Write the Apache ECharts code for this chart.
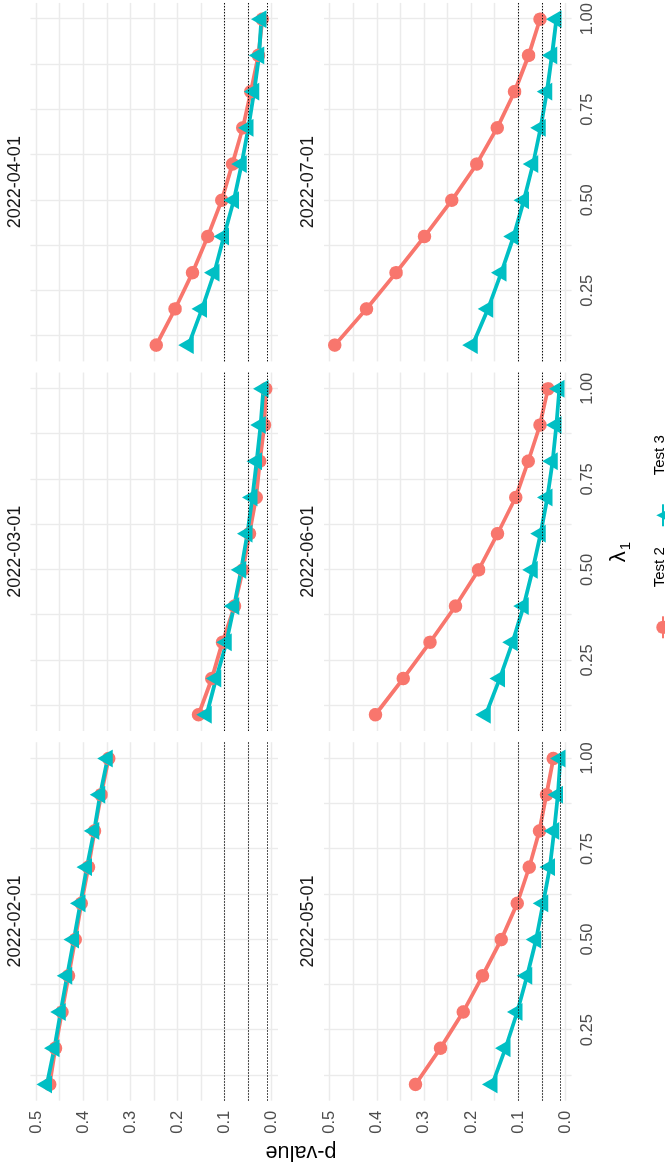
<!DOCTYPE html>
<html>
<head>
<meta charset="utf-8">
<script src="https://cdn.jsdelivr.net/npm/echarts@6/dist/echarts.min.js"></script>
<style>
html,body{margin:0;padding:0;background:#fff;overflow:hidden;width:665px;height:1168px;}
#chart{position:absolute;left:0;top:1168px;width:1168px;height:665px;transform-origin:0 0;transform:rotate(-90deg);background:#fff;}
</style>
</head>
<body>
<div id="chart"></div>
<script>
// ---------------- data ----------------
const lambda = [0.1, 0.2, 0.3, 0.4, 0.5, 0.6, 0.7, 0.8, 0.9, 1.0];
const panels = ['2022-02-01', '2022-03-01', '2022-04-01', '2022-05-01', '2022-06-01', '2022-07-01'];

const test2_0201 = [0.471, 0.459, 0.445, 0.431, 0.417, 0.404, 0.389, 0.376, 0.362, 0.346];
const test3_0201 = [0.477, 0.461, 0.448, 0.434, 0.420, 0.406, 0.392, 0.377, 0.364, 0.348];
const test2_0301 = [0.1555, 0.127, 0.1046, 0.079, 0.0614, 0.0474, 0.033, 0.0254, 0.0156, 0.0127];
const test3_0301 = [0.138, 0.118, 0.096, 0.080, 0.065, 0.0517, 0.041, 0.0318, 0.0234, 0.0177];
const test2_0401 = [0.245, 0.205, 0.168, 0.1356, 0.106, 0.0834, 0.0614, 0.0445, 0.0283, 0.0199];
const test3_0401 = [0.1766, 0.148, 0.122, 0.1017, 0.0805, 0.064, 0.0495, 0.0375, 0.027, 0.022];
const test2_0501 = [0.318, 0.265, 0.2167, 0.1756, 0.136, 0.102, 0.0765, 0.055, 0.040, 0.0255];
const test3_0501 = [0.155, 0.127, 0.102, 0.081, 0.062, 0.047, 0.033, 0.024, 0.016, 0.0106];
const test2_0601 = [0.403, 0.344, 0.287, 0.233, 0.184, 0.1437, 0.1054, 0.0786, 0.0538, 0.0368];
const test3_0601 = [0.169, 0.139, 0.112, 0.0884, 0.0693, 0.0523, 0.038, 0.0268, 0.019, 0.0127];
const test2_0701 = [0.489, 0.422, 0.359, 0.299, 0.2408, 0.188, 0.1445, 0.1076, 0.0779, 0.0538];
const test3_0701 = [0.197, 0.164, 0.136, 0.1096, 0.0878, 0.0686, 0.0523, 0.0389, 0.0283, 0.019];

const test2 = [test2_0201, test2_0301, test2_0401, test2_0501, test2_0601, test2_0701];
const test3 = [test3_0201, test3_0301, test3_0401, test3_0501, test3_0601, test3_0701];

const thresholds = [0.1, 0.05, 0.01];
const pTickLabels = [0, 0.1, 0.2, 0.3, 0.4, 0.5];
const pGridValues = [0, 0.05, 0.1, 0.15, 0.2, 0.25, 0.3, 0.35, 0.4, 0.45, 0.5];
const lambdaTickLabels = [0.25, 0.5, 0.75, 1.0];
const lambdaGridValues = [0.125, 0.25, 0.375, 0.5, 0.625, 0.75, 0.875, 1.0];

// ---------------- layout / style ----------------
const FONT = '"Liberation Sans", Arial, Helvetica, sans-serif';
const RED = '#F8766D', CYAN = '#00BFC4';
const colLeft = [67.3, 437, 806.6], colW = 358.5;
const rowTop = [30.4, 324], rowH = 247.6;
const P_MIN = -0.0133, P_MAX = 0.512, L_MIN = 0.055, L_MAX = 1.045;

const chart = echarts.init(document.getElementById('chart'), null, {width: 1168, height: 665});

const grids = [], xAxes = [], yAxes = [], graphics = [];
const hlineSeries = [], lineSeries = [], pointSeries = [];

panels.forEach((name, i) => {
  const r = Math.floor(i / 3), c = i % 3;
  grids.push({left: colLeft[c], top: rowTop[r], width: colW, height: rowH, containLabel: false});
  xAxes.push({
    type: 'value', gridIndex: i, min: L_MIN, max: L_MAX,
    axisLine: {show: false},
    axisTick: {show: false, customValues: lambdaGridValues},
    axisLabel: {show: r === 1, customValues: lambdaTickLabels, formatter: v => v.toFixed(2),
      margin: 7, color: '#4D4D4D', fontSize: 16.5, fontFamily: FONT},
    splitLine: {show: true, lineStyle: {color: '#EBEBEB', width: 1.4}}
  });
  yAxes.push({
    type: 'value', gridIndex: i, min: P_MIN, max: P_MAX,
    axisLine: {show: false},
    axisTick: {show: false, customValues: pGridValues},
    axisLabel: {show: c === 0, customValues: pTickLabels, formatter: v => v.toFixed(1),
      margin: 10, color: '#4D4D4D', fontSize: 16.5, fontFamily: FONT},
    splitLine: {show: true, lineStyle: {color: '#EBEBEB', width: 1.4}}
  });
  hlineSeries.push({
    type: 'line', xAxisIndex: i, yAxisIndex: i, data: [[L_MIN, P_MIN]], showSymbol: false,
    lineStyle: {opacity: 0}, z: 1, silent: true,
    markLine: {
      silent: true, symbol: ['none', 'none'], label: {show: false}, animation: false,
      lineStyle: {type: [1.4, 1.6], color: '#111', width: 1.1},
      data: thresholds.map(v => ({yAxis: v}))
    }
  });
  const d2 = lambda.map((l, k) => [l, test2[i][k]]);
  const d3 = lambda.map((l, k) => [l, test3[i][k]]);
  lineSeries.push({type: 'line', name: 'Test 2', xAxisIndex: i, yAxisIndex: i, data: d2,
    showSymbol: false, symbol: 'circle', lineStyle: {color: RED, width: 3.8}, itemStyle: {color: RED}, z: 2, silent: true});
  lineSeries.push({type: 'line', name: 'Test 3', xAxisIndex: i, yAxisIndex: i, data: d3,
    showSymbol: false, symbol: 'triangle', lineStyle: {color: CYAN, width: 3.8}, itemStyle: {color: CYAN}, z: 2, silent: true});
  pointSeries.push({type: 'scatter', name: 'Test 2', xAxisIndex: i, yAxisIndex: i, data: d2,
    symbol: 'circle', symbolSize: 13.5, itemStyle: {color: RED, opacity: 1}, z: 3, silent: true});
  pointSeries.push({type: 'scatter', name: 'Test 3', xAxisIndex: i, yAxisIndex: i, data: d3,
    symbol: 'triangle', symbolSize: [17.9, 15.5], symbolOffset: [0, -2.6], itemStyle: {color: CYAN, opacity: 1}, z: 3, silent: true});

  // facet strip label
  graphics.push({type: 'text', x: colLeft[c] + colW / 2, y: rowTop[r] - 15.5, silent: true,
    style: {text: name, fontSize: 18, fontFamily: FONT, fill: '#1A1A1A', align: 'center', verticalAlign: 'middle'}});
});

// axis titles
graphics.push({type: 'text', x: 16, y: 301, rotation: Math.PI / 2, silent: true,
  style: {text: 'p-value', fontSize: 21.7, fontFamily: FONT, fill: '#000', align: 'center', verticalAlign: 'middle'}});
graphics.push({type: 'text', x: 616, y: 619, silent: true,
  style: {text: '{l|λ}{s|1}', align: 'center', verticalAlign: 'middle', fill: '#000',
    rich: {l: {fontSize: 22, fontFamily: FONT, fill: '#000'}, s: {fontSize: 15, fontFamily: FONT, fill: '#000', padding: [14, 0, 0, 1]}}}});

chart.setOption({
  backgroundColor: '#fff',
  animation: false,
  grid: grids,
  xAxis: xAxes,
  yAxis: yAxes,
  legend: {
    data: ['Test 2', 'Test 3'], orient: 'horizontal', left: 523.7, top: 647.5,
    itemWidth: 22, itemHeight: 16.6, itemGap: 20, selectedMode: false,
    formatter: '{t|{name}}',
    textStyle: {fontSize: 15, color: '#000', fontFamily: FONT, padding: [0, 0, 0, 24],
      rich: {t: {fontSize: 15, color: '#000', fontFamily: FONT, padding: [0, 0, 6, 0]}}}
  },
  graphic: graphics,
  series: [].concat(hlineSeries, lineSeries, pointSeries)
});
</script>
</body>
</html>
